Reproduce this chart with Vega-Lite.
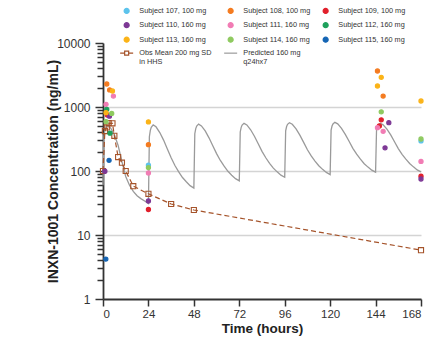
{
  "$schema": "https://vega.github.io/schema/vega-lite/v6.json",
  "width": 318,
  "height": 256,
  "autosize": {"type": "none"},
  "padding": {"left": 103, "top": 43, "right": 27, "bottom": 38},
  "config": {
    "view": {"stroke": null},
    "font": "Liberation Sans",
    "legend": {"symbolStrokeWidth": 1.2}
  },
  "datasets": {
    "pred": [
      {"t": 0, "v": 60}, {"t": 0.5, "v": 350}, {"t": 1, "v": 440}, {"t": 1.5, "v": 490}, {"t": 2.5, "v": 505}, {"t": 4, "v": 470}, {"t": 6, "v": 370}, {"t": 8, "v": 250}, {"t": 10, "v": 140}, {"t": 12, "v": 82}, {"t": 14, "v": 60}, {"t": 16, "v": 48}, {"t": 18, "v": 41}, {"t": 20, "v": 37}, {"t": 22, "v": 34}, {"t": 24, "v": 31},
      {"t": 24.5, "v": 343}, {"t": 25, "v": 431}, {"t": 25.5, "v": 482}, {"t": 26.5, "v": 525}, {"t": 28, "v": 490}, {"t": 30, "v": 399}, {"t": 32, "v": 304}, {"t": 34, "v": 221}, {"t": 36, "v": 161}, {"t": 38, "v": 122}, {"t": 40, "v": 97}, {"t": 42, "v": 79}, {"t": 44, "v": 68}, {"t": 46, "v": 59}, {"t": 48, "v": 54},
      {"t": 48.5, "v": 382}, {"t": 49, "v": 459}, {"t": 49.5, "v": 504}, {"t": 50.5, "v": 540}, {"t": 52, "v": 507}, {"t": 54, "v": 423}, {"t": 56, "v": 330}, {"t": 58, "v": 248}, {"t": 60, "v": 187}, {"t": 62, "v": 146}, {"t": 64, "v": 119}, {"t": 66, "v": 99}, {"t": 68, "v": 86}, {"t": 70, "v": 76}, {"t": 72, "v": 70},
      {"t": 72.5, "v": 407}, {"t": 73, "v": 481}, {"t": 73.5, "v": 522}, {"t": 74.5, "v": 556}, {"t": 76, "v": 525}, {"t": 78, "v": 441}, {"t": 80, "v": 349}, {"t": 82, "v": 266}, {"t": 84, "v": 203}, {"t": 86, "v": 161}, {"t": 88, "v": 132}, {"t": 90, "v": 111}, {"t": 92, "v": 97}, {"t": 94, "v": 86}, {"t": 96, "v": 80},
      {"t": 96.5, "v": 424}, {"t": 97, "v": 496}, {"t": 97.5, "v": 536}, {"t": 98.5, "v": 569}, {"t": 100, "v": 538}, {"t": 102, "v": 455}, {"t": 104, "v": 363}, {"t": 106, "v": 280}, {"t": 108, "v": 215}, {"t": 110, "v": 172}, {"t": 112, "v": 143}, {"t": 114, "v": 121}, {"t": 116, "v": 106}, {"t": 118, "v": 95}, {"t": 120, "v": 88},
      {"t": 120.5, "v": 434}, {"t": 121, "v": 505}, {"t": 121.5, "v": 544}, {"t": 122.5, "v": 576}, {"t": 124, "v": 546}, {"t": 126, "v": 464}, {"t": 128, "v": 374}, {"t": 130, "v": 291}, {"t": 132, "v": 226}, {"t": 134, "v": 183}, {"t": 136, "v": 153}, {"t": 138, "v": 130}, {"t": 140, "v": 115}, {"t": 142, "v": 103}, {"t": 144, "v": 96},
      {"t": 144.5, "v": 428}, {"t": 145, "v": 492}, {"t": 145.5, "v": 527}, {"t": 146.5, "v": 556}, {"t": 148, "v": 527}, {"t": 150, "v": 451}, {"t": 152, "v": 366}, {"t": 154, "v": 286}, {"t": 156, "v": 224}, {"t": 158, "v": 182}, {"t": 160, "v": 153}, {"t": 162, "v": 131}, {"t": 164, "v": 116}, {"t": 166, "v": 104}, {"t": 168, "v": 97}
    ],
    "obs": [
      {"t": 0, "v": 100}, {"t": 1, "v": 420}, {"t": 2, "v": 480}, {"t": 3, "v": 560}, {"t": 5, "v": 556}, {"t": 6, "v": 355}, {"t": 8, "v": 165}, {"t": 10, "v": 135}, {"t": 12, "v": 100}, {"t": 16, "v": 58}, {"t": 24, "v": 44}, {"t": 36, "v": 30.5}, {"t": 48, "v": 24.6}, {"t": 168, "v": 5.8}
    ],
    "subj": [
      {"s": "Subject 107, 100 mg", "t": 24, "v": 123},
      {"s": "Subject 107, 100 mg", "t": 168, "v": 295},
      {"s": "Subject 108, 100 mg", "t": 2, "v": 2290},
      {"s": "Subject 108, 100 mg", "t": 3.5, "v": 1850},
      {"s": "Subject 108, 100 mg", "t": 24, "v": 258},
      {"s": "Subject 108, 100 mg", "t": 145, "v": 3650},
      {"s": "Subject 108, 100 mg", "t": 148, "v": 1480},
      {"s": "Subject 109, 100 mg", "t": 2.3, "v": 750},
      {"s": "Subject 109, 100 mg", "t": 24, "v": 25},
      {"s": "Subject 109, 100 mg", "t": 147, "v": 630},
      {"s": "Subject 109, 100 mg", "t": 146, "v": 505},
      {"s": "Subject 109, 100 mg", "t": 168, "v": 83},
      {"s": "Subject 110, 160 mg", "t": 1, "v": 99},
      {"s": "Subject 110, 160 mg", "t": 3.4, "v": 720},
      {"s": "Subject 110, 160 mg", "t": 24, "v": 34},
      {"s": "Subject 110, 160 mg", "t": 151, "v": 569},
      {"s": "Subject 110, 160 mg", "t": 149, "v": 230},
      {"s": "Subject 110, 160 mg", "t": 168, "v": 75},
      {"s": "Subject 111, 160 mg", "t": 1.6, "v": 1100},
      {"s": "Subject 111, 160 mg", "t": 5.5, "v": 1480},
      {"s": "Subject 111, 160 mg", "t": 24, "v": 93},
      {"s": "Subject 111, 160 mg", "t": 145, "v": 475},
      {"s": "Subject 111, 160 mg", "t": 148, "v": 417},
      {"s": "Subject 111, 160 mg", "t": 168, "v": 141},
      {"s": "Subject 112, 160 mg", "t": 2, "v": 920},
      {"s": "Subject 112, 160 mg", "t": 3.7, "v": 390},
      {"s": "Subject 113, 160 mg", "t": 1.6, "v": 815},
      {"s": "Subject 113, 160 mg", "t": 5, "v": 1780},
      {"s": "Subject 113, 160 mg", "t": 24, "v": 585},
      {"s": "Subject 113, 160 mg", "t": 147, "v": 2910},
      {"s": "Subject 113, 160 mg", "t": 145, "v": 2130},
      {"s": "Subject 113, 160 mg", "t": 168, "v": 1240},
      {"s": "Subject 114, 160 mg", "t": 1.6, "v": 590},
      {"s": "Subject 114, 160 mg", "t": 4.6, "v": 795},
      {"s": "Subject 114, 160 mg", "t": 24, "v": 113},
      {"s": "Subject 114, 160 mg", "t": 147, "v": 840},
      {"s": "Subject 114, 160 mg", "t": 168, "v": 316},
      {"s": "Subject 115, 160 mg", "t": 1.5, "v": 4.2},
      {"s": "Subject 115, 160 mg", "t": 3.2, "v": 147}
    ]
  },
  "layer": [
    {
      "data": {"name": "pred"},
      "mark": {"type": "line", "stroke": "#9a9a9a", "strokeWidth": 1.3},
      "encoding": {
        "x": {
          "field": "t", "type": "quantitative",
          "scale": {"domain": [0, 168], "nice": false, "zero": false},
          "axis": {
            "values": [0, 12, 24, 36, 48, 60, 72, 84, 96, 108, 120, 132, 144, 156, 168],
            "labelExpr": "datum.value % 24 == 0 ? datum.label : ''",
            "title": "Time (hours)", "titleFontSize": 13.5, "titleFontWeight": "bold", "titleColor": "#222", "titlePadding": 2,
            "labelFontSize": 11.5, "labelColor": "#333", "labelPadding": 2,
            "tickSize": 7, "tickColor": "#333", "tickWidth": 1.5,
            "domainColor": "#333", "domainWidth": 1.8, "grid": false
          }
        },
        "y": {
          "field": "v", "type": "quantitative",
          "scale": {"type": "log", "domain": [1, 10000], "nice": false},
          "axis": {
            "values": [1, 2, 3, 4, 5, 6, 7, 8, 9, 10, 20, 30, 40, 50, 60, 70, 80, 90, 100, 200, 300, 400, 500, 600, 700, 800, 900, 1000, 2000, 3000, 4000, 5000, 6000, 7000, 8000, 9000, 10000],
            "labelExpr": "indexof([1, 10, 100, 1000, 10000], datum.value) >= 0 ? '' + datum.value : ''",
            "title": "INXN-1001 Concentration (ng/mL)", "titleFontSize": 14, "titleFontWeight": "bold", "titleColor": "#222",
            "titleX": -43, "titleY": 128,
            "labelFontSize": 12, "labelColor": "#333", "labelPadding": 5,
            "tickSize": {"condition": {"test": "indexof([1, 10, 100, 1000, 10000], datum.value) >= 0", "value": 8}, "value": 6},
            "tickColor": "#333", "tickWidth": 1.5,
            "domainColor": "#333", "domainWidth": 1.8,
            "grid": true, "gridColor": "#d4d4d4", "gridWidth": 1.5,
            "gridOpacity": {"condition": {"test": "indexof([10, 100, 1000], datum.value) >= 0", "value": 1}, "value": 0}
          }
        }
      }
    },
    {
      "data": {"name": "obs"},
      "mark": {"type": "line", "stroke": "#a5532a", "strokeWidth": 1.2, "strokeDash": [5, 3]},
      "encoding": {
        "x": {"field": "t", "type": "quantitative"},
        "y": {"field": "v", "type": "quantitative"}
      }
    },
    {
      "data": {"name": "obs"},
      "mark": {"type": "point", "shape": "square", "filled": false, "stroke": "#a5532a", "strokeWidth": 1.1, "size": 26, "opacity": 1},
      "encoding": {
        "x": {"field": "t", "type": "quantitative"},
        "y": {"field": "v", "type": "quantitative"}
      }
    },
    {
      "data": {"name": "subj"},
      "mark": {"type": "point", "size": 17, "strokeWidth": 1.2, "opacity": 1},
      "encoding": {
        "x": {"field": "t", "type": "quantitative"},
        "y": {"field": "v", "type": "quantitative"},
        "fill": {
          "field": "s", "type": "nominal",
          "scale": {
            "domain": ["Subject 107, 100 mg", "Subject 108, 100 mg", "Subject 109, 100 mg", "Subject 110, 160 mg", "Subject 111, 160 mg", "Subject 112, 160 mg", "Subject 113, 160 mg", "Subject 114, 160 mg", "Subject 115, 160 mg", "Obs Mean 200 mg SD|in HHS", "Predicted 160 mg|q24hx7"],
            "range": ["#5cc3ec", "#f47b20", "#e1202c", "#7d3895", "#f17cb4", "#1ea15c", "#fbb317", "#8fca60", "#1565b4", "transparent", "transparent"]
          },
          "legend": {
            "title": null, "orient": "none", "legendX": 20, "legendY": -36,
            "columns": 3, "direction": "horizontal", "gridAlign": "each",
            "symbolSize": 25, "labelFontSize": 7.3, "labelColor": "#333",
            "labelOffset": 9, "rowPadding": 3.5, "columnPadding": 9, "labelLimit": 0,
            "labelExpr": "split(datum.label, '|')"
          }
        },
        "stroke": {
          "field": "s", "type": "nominal",
          "scale": {
            "domain": ["Subject 107, 100 mg", "Subject 108, 100 mg", "Subject 109, 100 mg", "Subject 110, 160 mg", "Subject 111, 160 mg", "Subject 112, 160 mg", "Subject 113, 160 mg", "Subject 114, 160 mg", "Subject 115, 160 mg", "Obs Mean 200 mg SD|in HHS", "Predicted 160 mg|q24hx7"],
            "range": ["#5cc3ec", "#f47b20", "#e1202c", "#7d3895", "#f17cb4", "#1ea15c", "#fbb317", "#8fca60", "#1565b4", "#a5532a", "#9a9a9a"]
          },
          "legend": {
            "title": null, "orient": "none", "legendX": 20, "legendY": -36,
            "columns": 3, "direction": "horizontal", "gridAlign": "each",
            "symbolSize": 25, "labelFontSize": 7.3, "labelColor": "#333",
            "labelOffset": 9, "rowPadding": 3.5, "columnPadding": 9, "labelLimit": 0,
            "labelExpr": "split(datum.label, '|')"
          }
        },
        "shape": {
          "field": "s", "type": "nominal",
          "scale": {
            "domain": ["Subject 107, 100 mg", "Subject 108, 100 mg", "Subject 109, 100 mg", "Subject 110, 160 mg", "Subject 111, 160 mg", "Subject 112, 160 mg", "Subject 113, 160 mg", "Subject 114, 160 mg", "Subject 115, 160 mg", "Obs Mean 200 mg SD|in HHS", "Predicted 160 mg|q24hx7"],
            "range": ["circle", "circle", "circle", "circle", "circle", "circle", "circle", "circle", "circle", "M-2.6,0H-0.8M0.8,0H2.6M-0.8,-0.8H0.8V0.8H-0.8Z", "M-2.6,0H2.6"]
          },
          "legend": {
            "title": null, "orient": "none", "legendX": 20, "legendY": -36,
            "columns": 3, "direction": "horizontal", "gridAlign": "each",
            "symbolSize": 25, "labelFontSize": 7.3, "labelColor": "#333",
            "labelOffset": 9, "rowPadding": 3.5, "columnPadding": 9, "labelLimit": 0,
            "labelExpr": "split(datum.label, '|')"
          }
        }
      }
    }
  ]
}
